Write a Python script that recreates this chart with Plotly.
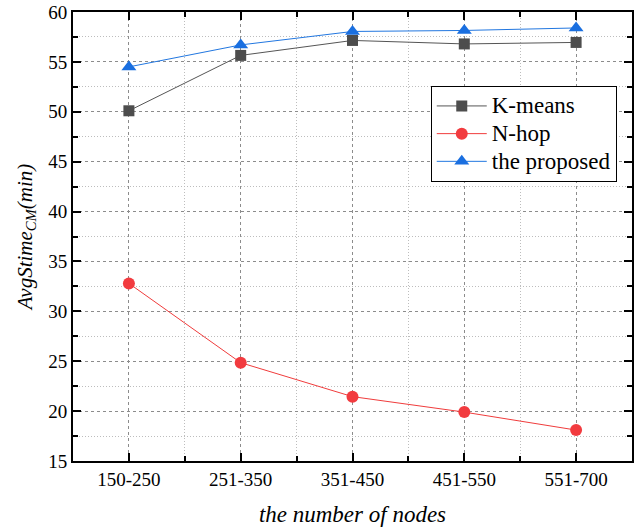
import plotly.graph_objects as go

categories = ["150-250", "251-350", "351-450", "451-550", "551-700"]
kmeans = [50.1, 55.65, 57.15, 56.8, 56.95]
nhop = [32.8, 24.85, 21.45, 19.9, 18.1]
proposed = [54.5, 56.7, 58.05, 58.15, 58.4]
series_names = ["K-means", "N-hop", "the proposed"]

xpos = list(range(len(categories)))

def leg(name):
    return '<span style="font-size:23px">' + name + '</span>'

fig = go.Figure()
fig.add_trace(go.Scatter(x=xpos, y=kmeans, name=leg(series_names[0]), mode="lines+markers",
                         line=dict(color="#555555", width=1),
                         marker=dict(symbol="square", size=11, color="#4d4d4d")))
fig.add_trace(go.Scatter(x=xpos, y=nhop, name=leg(series_names[1]), mode="lines+markers",
                         line=dict(color="#f03c3c", width=1),
                         marker=dict(symbol="circle", size=12, color="#f23b3f")))
fig.add_trace(go.Scatter(x=xpos, y=proposed, name=leg(series_names[2]), mode="lines+markers",
                         line=dict(color="#2277e0", width=1),
                         marker=dict(symbol="triangle-up", size=13, color="#1a6fe0")))

font = "Times New Roman"
major_grid = dict(showgrid=True, gridcolor="#8c8c8c", griddash="3px,3px", gridwidth=1)
minor_grid = dict(showgrid=True, gridcolor="#bdbdbd", griddash="1px,2px", gridwidth=1)

fig.update_layout(
    width=643, height=529,
    margin=dict(l=73, r=11, t=12, b=68, autoexpand=False),
    plot_bgcolor="white", paper_bgcolor="white",
    font=dict(family=font, size=19, color="black"),
    showlegend=True,
    legend=dict(x=0.64, y=0.835, xanchor="left", yanchor="top",
                bordercolor="black", borderwidth=1, bgcolor="white",
                font=dict(family=font, size=19), tracegroupgap=0,
                itemwidth=50),
)

fig.update_xaxes(
    range=[-0.5, 4.5], tickmode="array", tickvals=xpos, ticktext=categories,
    showline=True, linecolor="black", linewidth=2, mirror="allticks",
    ticks="inside", ticklen=8, tickwidth=1.5, tickcolor="black",
    minor=dict(tickmode="array", tickvals=[0.5, 1.5, 2.5, 3.5], ticks="inside",
               ticklen=5, tickwidth=1.5, tickcolor="black", **minor_grid),
    zeroline=False, automargin=False, ticklabeloverflow="allow",
    title=dict(text="<i>the number of nodes</i>", font=dict(family=font, size=23), standoff=17),
    tickfont=dict(family=font, size=19),
    **major_grid,
)
fig.update_yaxes(
    range=[15, 60], tickmode="linear", tick0=15, dtick=5,
    showline=True, linecolor="black", linewidth=2, mirror="allticks",
    ticks="inside", ticklen=8, tickwidth=1.5, tickcolor="black",
    minor=dict(tickmode="linear", tick0=17.5, dtick=5, ticks="inside",
               ticklen=5, tickwidth=1.5, tickcolor="black", **minor_grid),
    zeroline=False, automargin=False, ticklabeloverflow="allow",
    title=dict(text="<i>AvgStime<sub>CM</sub>(min)</i>", font=dict(family=font, size=21), standoff=10),
    tickfont=dict(family=font, size=19),
    **major_grid,
)

fig.write_html("out.html", config={"displayModeBar": False},
               post_script="document.body.style.margin='0';")
